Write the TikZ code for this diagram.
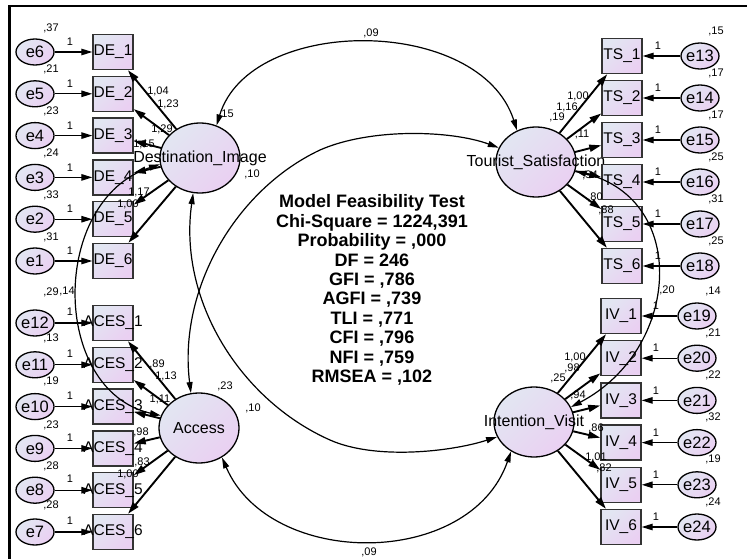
\documentclass[tikz,border=0pt]{standalone}
\usepackage{fontspec}
\setmainfont{Liberation Sans}
\usetikzlibrary{shapes.geometric}
\usetikzlibrary{arrows.meta}

\definecolor{shadetop}{RGB}{226,230,242}
\definecolor{shadebot}{RGB}{234,208,242}
\definecolor{boxline}{RGB}{51,51,51}

\tikzset{
  latent/.style={ellipse, draw, line width=1.3pt, minimum width=80, minimum height=70, inner sep=0,
    top color=shadetop, bottom color=shadebot, shading angle=45},
  errvar/.style={ellipse, draw, line width=1.3pt, minimum width=38, minimum height=26, inner sep=0,
    top color=shadetop, bottom color=shadebot, shading angle=45},
  obs/.style={rectangle, draw=boxline, line width=1.4pt, minimum width=40, minimum height=35, inner sep=0,
    top color=shadetop, bottom color=shadebot, shading angle=45},
  lattext/.style={font=\fontsize{16}{18}\selectfont, inner sep=0},
  obstext/.style={font=\fontsize{15.5}{17}\selectfont, inner sep=0},
  errtext/.style={font=\fontsize{16.5}{18}\selectfont, inner sep=0},
  num/.style={font=\fontsize{11}{13}\selectfont, inner sep=0},
  load/.style={-{Triangle[length=12pt,width=7pt]}, line width=1.9pt},
  errarr/.style={-{Triangle[length=11pt,width=6.5pt]}, line width=1.3pt},
  cov/.style={{Triangle[length=11pt,width=6pt]}-{Triangle[length=11pt,width=6pt]}, line width=1.2pt},
}

\begin{document}
\begin{tikzpicture}[x=1pt,y=-1pt]
\useasboundingbox (0,0) rectangle (747,559);
% frame
\draw[line width=2.2pt] (9.5,559) -- (9.5,6.2) -- (747,6.2);

% latent variables
\node[latent, label={[lattext]center:Destination\_Image}] (DI) at (200,158) {};
\node[latent, label={[lattext]center:Access}] (AC) at (199,428) {};
\node[latent, label={[lattext]center:Tourist\_Satisfaction}] (TS) at (536,162) {};
\node[latent, label={[lattext]center:Intention\_Visit}] (IV) at (534,422) {};

% destination image indicators
\foreach \i/\e/\v in {1/6/{,}37,2/5/{,}21,3/4/{,}23,4/3/{,}24,5/2/{,}33,6/1/{,}31}{
  \node[obs, label={[obstext]center:DE\_\i}] (D\i) at (113,{52+(\i-1)*41.8}) {};
  \node[errvar, label={[errtext]center:e\e}] (eD\i) at (35,{52+(\i-1)*41.8}) {};
  \node[num] (vD\i) at (51,{28+(\i-1)*41.8}) {\v};
  \node[num] (oD\i) at (70,{42+(\i-1)*41.8}) {1};
  \draw[errarr] (eD\i) -- (D\i);
}
% access indicators
\foreach \i/\e/\v/\vy in {1/12/{,}29/292,2/11/{,}13/338,3/10/{,}19/381,4/9/{,}23/425,5/8/{,}28/466,6/7/{,}28/505}{
  \node[obs, label={[obstext]center:ACES\_\i}] (A\i) at (113,{323+(\i-1)*41.8}) {};
  \node[errvar, label={[errtext]center:e\e}] (eA\i) at (35,{323+(\i-1)*41.8}) {};
  \node[num] (vA\i) at (51,\vy) {\v};
  \node[num] (oA\i) at (70,{312+(\i-1)*41.8}) {1};
  \draw[errarr] (eA\i) -- (A\i);
}
% tourist satisfaction indicators
\foreach \i/\e/\v in {1/13/{,}15,2/14/{,}17,3/15/{,}17,4/16/{,}25,5/17/{,}31,6/18/{,}25}{
  \node[obs, label={[obstext]center:TS\_\i}] (T\i) at (622,{56+(\i-1)*42}) {};
  \node[errvar, label={[errtext]center:e\e}] (eT\i) at (700,{56+(\i-1)*42}) {};
  \node[num] (vT\i) at (716,{31+(\i-1)*42}) {\v};
  \node[num] (oT\i) at (658,{46+(\i-1)*42}) {1};
  \draw[errarr] (eT\i) -- (T\i);
}
% intention visit indicators
\foreach \i/\e/\v in {1/19/{,}14,2/20/{,}21,3/21/{,}22,4/22/{,}32,5/23/{,}19,6/24/{,}24}{
  \node[obs, label={[obstext]center:IV\_\i}] (I\i) at (621,{316+(\i-1)*42.2}) {};
  \node[errvar, label={[errtext]center:e\e}] (eI\i) at (697,{316+(\i-1)*42.2}) {};
  \node[num] (vI\i) at (713,{291+(\i-1)*42.2}) {\v};
  \node[num] (oI\i) at (656,{306+(\i-1)*42.2}) {1};
  \draw[errarr] (eI\i) -- (I\i);
}

% loadings
\foreach \i in {1,...,6}{
  \draw[load] (DI) -- (D\i);
  \draw[load] (AC) -- (A\i);
  \draw[load] (TS) -- (T\i);
  \draw[load] (IV) -- (I\i);
}

% covariances
\draw[cov] (DI.63) .. controls (250,15) and (480,15) .. (TS.121);
\draw[cov] (AC.-52) .. controls (270,569) and (470,569) .. (IV.-128);
\draw[cov] (DI.189) .. controls (50,200) and (50,390) .. (AC.162);
\draw[cov] (TS.-13) .. controls (690,200) and (680,350) .. (IV.22);
\draw[cov] (DI.259) .. controls (178,300) and (240,400) .. (330,440)
  .. controls (375,460) and (450,452) .. (IV.202);
\draw[cov] (AC.103) .. controls (178,290) and (235,190) .. (320,150)
  .. controls (370,128) and (450,130) .. (TS.159);

% estimates
\foreach \x/\y/\t [count=\k] in {158/91/1{,}04,168/104/1{,}23,162/129/1{,}29,144/144/1{,}15,
    139/192/1{,}17,128/204/1{,}00,226/114/{,}15,252/174/{,}10}
  \node[num] (nD\k) at (\x,\y) {\t};
\foreach \x/\y/\t [count=\k] in {157/364/{,}89,166/376/1{,}13,160/399/1{,}11,141/432/{,}98,
    142/462/{,}83,128/474/1{,}00,225/386/{,}23,253/408/{,}10}
  \node[num] (nA\k) at (\x,\y) {\t};
\foreach \x/\y/\t [count=\k] in {557/117/{,}19,578/96/1{,}00,567/107/1{,}16,582/134/{,}11,
    590/175/{,}94,595/197/{,}80,606/210/{,}88}
  \node[num] (nT\k) at (\x,\y) {\t};
\foreach \x/\y/\t [count=\k] in {558/378/{,}25,575/357/1{,}00,572/368/{,}98,578/395/{,}94,
    596/428/{,}86,596/457/1{,}01,604/468/{,}82}
  \node[num] (nI\k) at (\x,\y) {\t};
\node[num] (cDT) at (371,33) {,09};
\node[num] (cAI) at (369,552) {,09};
\node[num] (cDA) at (67,291) {,14};
\node[num] (cTI) at (667,290) {,20};

% fit indices
\node[align=center, font=\fontsize{18}{19.4}\selectfont\bfseries] (fit) at (372,290)
  {Model Feasibility Test\\Chi-Square = 1224,391\\Probability = ,000\\DF = 246\\GFI = ,786\\
   AGFI = ,739\\TLI = ,771\\CFI = ,796\\NFI = ,759\\RMSEA = ,102};
\end{tikzpicture}
\end{document}
